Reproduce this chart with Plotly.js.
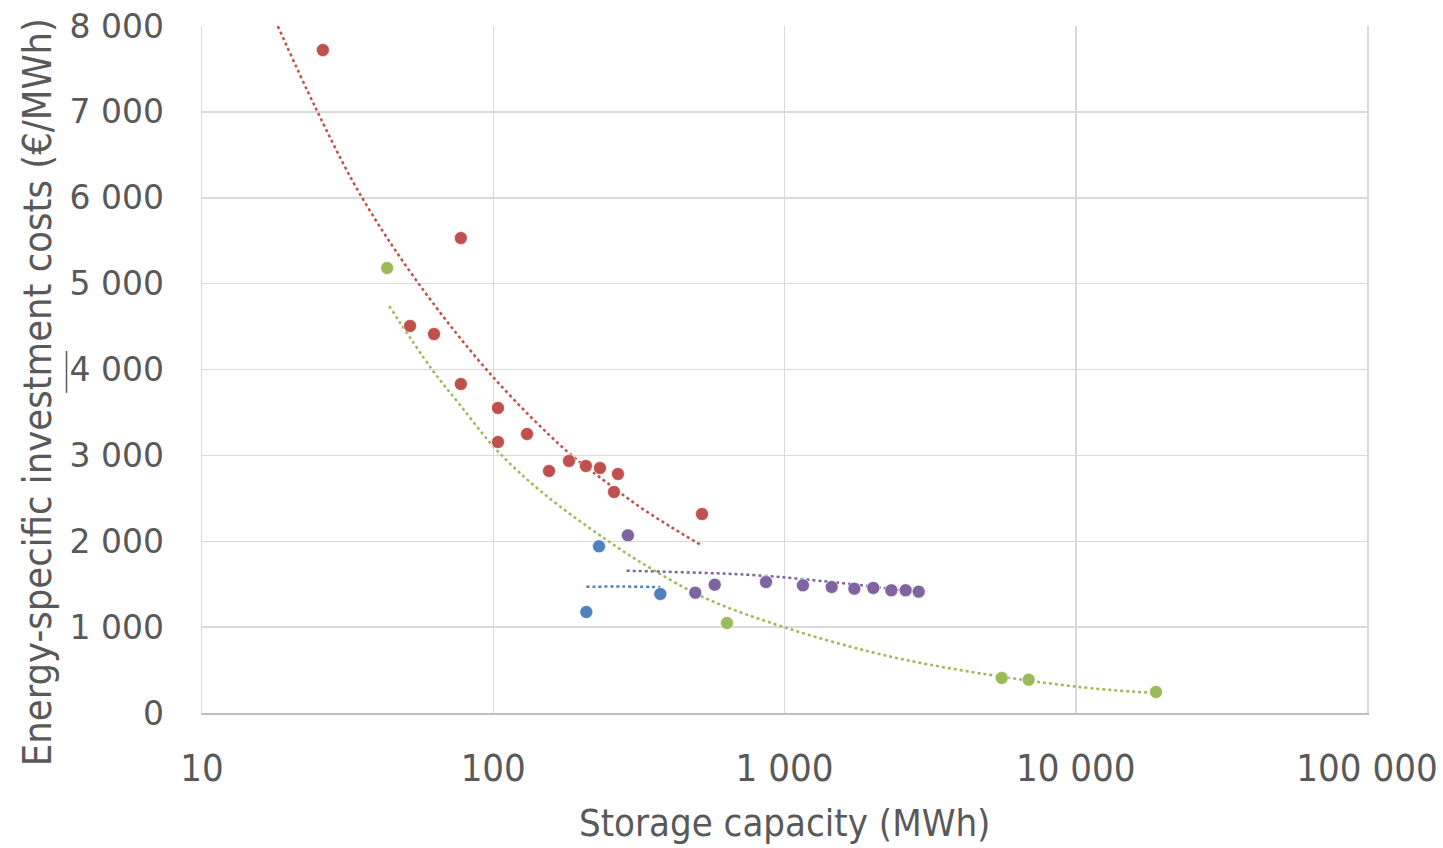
<!DOCTYPE html>
<html>
<head>
<meta charset="utf-8">
<script src="https://cdn.plot.ly/plotly-3.0.1.min.js"></script>
<style>html,body{margin:0;padding:0;background:#fff;}#chart{width:1443px;height:848px;}</style>
</head>
<body>
<div id="chart"></div>
<script>
// ---- data ----
const redX = [26.0, 77.4, 51.8, 62.6, 77.4, 103.8, 103.8, 130.6, 155.4, 182, 208, 232.5, 268, 259.8, 520.8];
const redY = [7720, 5531, 4507, 4413, 3831, 3552, 3156, 3249, 2818, 2935, 2876, 2853, 2783, 2574, 2317];
const redTrendX = [18.2, 24.6, 34.9, 55.3, 100, 178.7, 245, 319, 415, 518];
const redTrendY = [8000, 7040, 6040, 5005, 3910, 3050, 2685, 2398, 2150, 1953];

const greenX = [43.2, 634.6, 5569, 6893, 18865];
const greenY = [5182, 1048, 408, 388, 245];
const greenTrendX = [43.9, 61.4, 76.9, 102.7, 148.6, 245, 345, 541, 1000, 2000, 3698, 10070, 17990];
const greenTrendY = [4740, 4008, 3587, 3063, 2558, 2015, 1690, 1330, 998, 707, 520, 306, 236];

const blueX = [230.7, 208.7, 374.7];
const blueY = [1941, 1176, 1386];
const blueTrendX = [208.7, 280, 374.7];
const blueTrendY = [1470, 1472, 1466];

const purpleX = [290, 494, 576, 864, 1157, 1452, 1737, 2018, 2328, 2606, 2889];
const purpleY = [2069, 1401, 1494, 1525, 1487, 1467, 1448, 1456, 1429, 1429, 1413];
const purpleTrendX = [287, 541, 703, 990, 1358, 1550, 2018, 2889];
const purpleTrendY = [1657, 1630, 1615, 1580, 1535, 1515, 1471, 1400];

const xTickVals = [10, 100, 1000, 10000, 100000];
const xTickText = ['10', '100', '1 000', '10 000', '100 000'];
const xTitle = 'Storage capacity (MWh)';
const yTitle = 'Energy-specific investment costs (€/MWh)';

const RED = '#C0504D', GREEN = '#9BBB59', BLUE = '#4F81BD', PURPLE = '#8064A2';

function pts(x, y, c) {
  return {x: x, y: y, type: 'scatter', mode: 'markers', showlegend: false,
    marker: {color: c, size: 13, line: {color: 'rgba(255,255,255,0.6)', width: 1}}, cliponaxis: true};
}
function trend(x, y, c) {
  return {x: x, y: y, type: 'scatter', mode: 'lines', showlegend: false,
    line: {color: c, width: 2.5, dash: 'dot', shape: 'spline', smoothing: 1}};
}

const data = [
  trend(redTrendX, redTrendY, RED),
  trend(greenTrendX, greenTrendY, GREEN),
  trend(blueTrendX, blueTrendY, BLUE),
  trend(purpleTrendX, purpleTrendY, PURPLE),
  pts(redX, redY, RED),
  pts(greenX, greenY, GREEN),
  pts(blueX, blueY, BLUE),
  pts(purpleX, purpleY, PURPLE)
];

const narrow = '"DejaVu Sans Condensed", "Liberation Sans Narrow", Arial, sans-serif';
const layout = {
  width: 1443, height: 848,
  margin: {l: 202, r: 76, t: 26, b: 135},
  paper_bgcolor: '#ffffff', plot_bgcolor: '#ffffff',
  separators: '. ',
  showlegend: false,
  xaxis: {
    type: 'log', range: [1, 5],
    tickvals: xTickVals, ticktext: xTickText,
    tickfont: {family: narrow, size: 38, color: '#595959'},
    ticklabelstandoff: 21,
    showgrid: true, gridcolor: '#d9d9d9', gridwidth: 1.5,
    showline: true, linecolor: '#bfbfbf', linewidth: 1.5,
    ticks: '', zeroline: false
  },
  yaxis: {
    range: [0, 8000], dtick: 1000, tickformat: ',d',
    tickfont: {family: '"DejaVu Sans", Verdana, sans-serif', size: 33, color: '#595959'},
    ticklabelstandoff: 30,
    showgrid: true, gridcolor: '#d9d9d9', gridwidth: 1.5,
    showline: true, linecolor: '#d9d9d9', linewidth: 1.5, mirror: true,
    ticks: '', zeroline: false
  },
  annotations: [
    {text: xTitle, xref: 'paper', yref: 'paper', x: 0.5, y: -0.16, xanchor: 'center', yanchor: 'middle',
     showarrow: false, font: {family: narrow, size: 38, color: '#595959'}},
    {text: yTitle, xref: 'paper', yref: 'paper', x: -0.1416, y: 0.467, xanchor: 'center', yanchor: 'middle',
     textangle: -90, showarrow: false, font: {family: narrow, size: 39.5, color: '#595959'}}
  ],
  shapes: [
    {type: 'line', xref: 'paper', yref: 'paper', x0: -0.1163, x1: -0.1163, y0: 0.466, y1: 0.527,
     line: {color: '#595959', width: 1.5}}
  ]
};

Plotly.newPlot('chart', data, layout, {displayModeBar: false, staticPlot: true});
</script>
</body>
</html>
